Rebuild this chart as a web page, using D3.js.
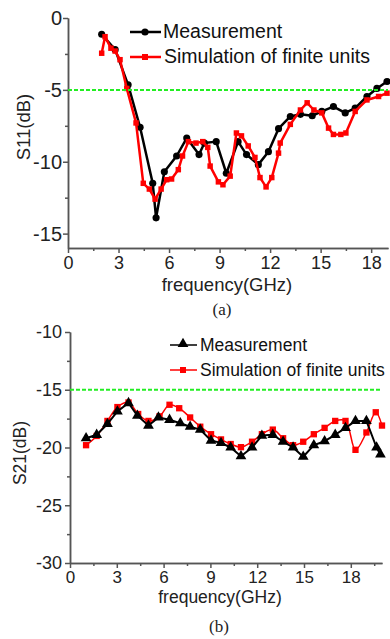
<!DOCTYPE html>
<html>
<head>
<meta charset="utf-8">
<script src="https://cdn.jsdelivr.net/npm/d3@7"></script>
<style>
  body { margin: 0; background: #fff; }
  svg { display: block; font-family: "Liberation Sans", Arial, sans-serif; }
  .axis path, .axis line { stroke: #555; stroke-width: 1.5; }
  .axis text { fill: #222; font-family: "Liberation Sans", Arial, sans-serif; }
</style>
</head>
<body>
<svg id="chart" width="390" height="639"></svg>
<script>
// ---- S11 (a) ----
var s11MeasFreq = [2.0, 2.8, 3.57, 4.28, 5.03, 5.23, 5.72, 6.45, 7.05, 7.78, 8.1, 8.8, 9.4, 10.1, 10.6, 11.3, 11.9, 12.5, 13.2, 13.8, 14.5, 15.07, 15.76, 16.46, 17.05, 17.75, 18.34, 18.94];
var s11MeasDb   = [-1.13, -2.2, -4.65, -7.6, -11.5, -13.9, -10.7, -9.6, -8.35, -9.5, -8.7, -8.6, -10.8, -8.6, -9.5, -10.2, -9.3, -7.7, -6.85, -6.7, -6.8, -6.5, -6.16, -6.6, -6.27, -5.46, -4.9, -4.42];
var s11SimFreq  = [2.0, 2.2, 2.55, 2.8, 3.09, 3.49, 4.04, 4.47, 4.83, 5.17, 5.53, 5.86, 6.15, 6.55, 6.8, 7.15, 7.6, 8.0, 8.3, 8.44, 8.93, 9.2, 9.63, 10.0, 10.3, 10.7, 11.1, 11.4, 11.76, 12.1, 12.5, 12.6, 13.2, 13.8, 14.2, 14.6, 15.07, 15.47, 15.76, 16.2, 16.5, 17.05, 17.75, 18.44, 18.94];
var s11SimDb    = [-2.45, -1.3, -2.1, -2.3, -2.9, -4.9, -7.3, -11.5, -11.9, -12.6, -11.9, -11.25, -11.2, -10.55, -9.6, -8.6, -8.7, -8.6, -9.0, -10.3, -11.4, -11.6, -11.0, -8.0, -8.2, -8.9, -9.7, -11.1, -11.75, -11.1, -9.4, -8.7, -7.4, -6.4, -5.9, -6.4, -6.6, -7.66, -8.1, -8.1, -8.0, -6.5, -5.7, -5.46, -5.23];
var s11XTicks = [0, 3, 6, 9, 12, 15, 18];
var s11YTicks = [0, -5, -10, -15];
var s11Limit = -5;

// ---- S21 (b) ----
var s21MeasFreq = [1.03, 1.71, 2.4, 3.04, 3.75, 4.32, 5.03, 5.67, 6.38, 7.07, 7.7, 8.35, 9.04, 9.68, 10.3, 10.96, 11.67, 12.3, 13.0, 13.66, 14.3, 14.95, 15.63, 16.32, 17.0, 17.66, 18.3, 19.0, 19.65, 19.9];
var s21MeasDb   = [-19.2, -18.9, -17.96, -16.87, -16.15, -17.24, -18.1, -17.4, -17.6, -17.9, -18.2, -18.45, -19.4, -19.6, -20.0, -20.75, -20.0, -18.97, -18.9, -19.5, -20.0, -20.8, -19.8, -19.45, -18.9, -18.3, -17.7, -17.7, -20.0, -20.6];
var s21SimFreq  = [1.03, 1.71, 2.4, 3.04, 3.75, 4.37, 5.03, 5.74, 6.38, 7.0, 7.7, 8.35, 9.04, 9.68, 10.3, 10.96, 11.67, 12.3, 13.0, 13.66, 14.3, 14.95, 15.63, 16.32, 17.0, 17.66, 18.3, 19.0, 19.6, 20.0];
var s21SimDb    = [-19.8, -19.0, -17.7, -16.5, -16.1, -17.1, -17.7, -17.3, -16.3, -16.6, -17.4, -18.2, -18.85, -19.3, -19.7, -19.97, -19.5, -18.85, -18.45, -19.2, -19.8, -19.5, -18.85, -18.3, -17.7, -17.7, -20.2, -18.7, -16.95, -18.1];
var s21XTicks = [0, 3, 6, 9, 12, 15, 18];
var s21YTicks = [-10, -15, -20, -25, -30];
var s21Limit = -15;

var svg = d3.select("#chart");

function zip(xs, ys) {
    return xs.map(function(x, i) { return {f: x, v: ys[i]}; });
}

// plain hyphen like the original, not the unicode minus
function plain(d) { return String(d); }

function drawAxes(g, x, y, xTicks, yTicks, opts) {
    var xMinor = [], yMinor = [];
    for (var i = 0; i < xTicks.length; i++) {
        var m = xTicks[i] + 1.5;
        if (m < x.domain()[1]) xMinor.push(m);
    }
    for (var j = 0; j < yTicks.length - 1; j++) {
        yMinor.push((yTicks[j] + yTicks[j + 1]) / 2);
    }

    g.append("g")
        .attr("class", "axis")
        .attr("transform", "translate(0," + y.range()[0] + ")")
        .call(d3.axisBottom(x).tickValues(xMinor).tickSize(3).tickSizeOuter(0).tickFormat(""));
    g.append("g")
        .attr("class", "axis")
        .attr("transform", "translate(" + x.range()[0] + ",0)")
        .call(d3.axisLeft(y).tickValues(yMinor).tickSize(3).tickSizeOuter(0).tickFormat(""));

    var xa = g.append("g")
        .attr("class", "axis")
        .attr("transform", "translate(0," + y.range()[0] + ")")
        .call(d3.axisBottom(x).tickValues(xTicks).tickSize(5).tickSizeOuter(0).tickPadding(3).tickFormat(plain));
    xa.selectAll("text").style("font-size", opts.xFont + "px");

    var ya = g.append("g")
        .attr("class", "axis")
        .attr("transform", "translate(" + x.range()[0] + ",0)")
        .call(d3.axisLeft(y).tickValues(yTicks).tickSize(5).tickSizeOuter(0).tickPadding(opts.yPad).tickFormat(plain));
    ya.selectAll("text").style("font-size", opts.yFont + "px");
}

function limitLine(g, x, y, v) {
    g.append("line")
        .attr("x1", x.range()[0]).attr("x2", x.range()[1])
        .attr("y1", y(v)).attr("y2", y(v))
        .attr("stroke", "#22ee22")
        .attr("stroke-width", 2)
        .attr("stroke-dasharray", "4,2");
}

function drawSeries(g, x, y, data, color, width, curve) {
    var line = d3.line()
        .x(function(d) { return x(d.f); })
        .y(function(d) { return y(d.v); })
        .curve(curve || d3.curveLinear);
    g.append("path")
        .datum(data)
        .attr("fill", "none")
        .attr("stroke", color)
        .attr("stroke-width", width)
        .attr("stroke-linejoin", "round")
        .attr("d", line);
}

function drawMarkers(g, x, y, data, type, color, size) {
    g.selectAll(null)
        .data(data)
        .enter()
        .append("path")
        .attr("transform", function(d) { return "translate(" + x(d.f) + "," + y(d.v) + ")"; })
        .attr("d", d3.symbol().type(type).size(size))
        .attr("fill", color);
}

// ================= chart (a) =================
var xA = d3.scaleLinear().domain([0, 19]).range([68, 388]);
var yA = d3.scaleLinear().domain([-16, 0]).range([248, 18]);
var gA = svg.append("g");

drawAxes(gA, xA, yA, s11XTicks, s11YTicks, {xFont: 18, yFont: 20, yPad: 1});

var measA = zip(s11MeasFreq, s11MeasDb);
var simA = zip(s11SimFreq, s11SimDb);
drawSeries(gA, xA, yA, measA, "#000", 2.5);
drawMarkers(gA, xA, yA, measA, d3.symbolCircle, "#000", 40);
drawSeries(gA, xA, yA, simA, "#f00", 2.5);
drawMarkers(gA, xA, yA, simA, d3.symbolSquare, "#f00", 30);
limitLine(gA, xA, yA, s11Limit);

// legend (a)
gA.append("line").attr("x1", 130).attr("x2", 161).attr("y1", 32).attr("y2", 32)
    .attr("stroke", "#000").attr("stroke-width", 2.5);
gA.append("circle").attr("cx", 145).attr("cy", 32).attr("r", 3.6).attr("fill", "#000");
gA.append("text").attr("x", 163).attr("y", 38).style("font-size", "19.5px").attr("fill", "#111")
    .text("Measurement");
gA.append("line").attr("x1", 130).attr("x2", 161).attr("y1", 57).attr("y2", 57)
    .attr("stroke", "#f00").attr("stroke-width", 2.5);
gA.append("rect").attr("x", 142).attr("y", 54).attr("width", 6).attr("height", 6).attr("fill", "#f00");
gA.append("text").attr("x", 164).attr("y", 63).style("font-size", "19.5px").attr("fill", "#111")
    .text("Simulation of finite units");

gA.append("text")
    .attr("transform", "translate(30,127) rotate(-90)")
    .attr("text-anchor", "middle")
    .style("font-size", "18.5px").attr("fill", "#222")
    .text("S11(dB)");
gA.append("text")
    .attr("x", 227).attr("y", 291)
    .attr("text-anchor", "middle")
    .style("font-size", "18.5px").attr("fill", "#222")
    .text("frequency(GHz)");
gA.append("text")
    .attr("x", 222).attr("y", 315)
    .attr("text-anchor", "middle")
    .style("font-family", "'Liberation Serif', 'Times New Roman', serif")
    .style("font-size", "17px").attr("fill", "#222")
    .text("(a)");

// ================= chart (b) =================
var xB = d3.scaleLinear().domain([0, 20]).range([70, 382]);
var yB = d3.scaleLinear().domain([-30, -10]).range([563, 332]);
var gB = svg.append("g");

drawAxes(gB, xB, yB, s21XTicks, s21YTicks, {xFont: 17, yFont: 18, yPad: 3});

var measB = zip(s21MeasFreq, s21MeasDb);
var simB = zip(s21SimFreq, s21SimDb);
limitLine(gB, xB, yB, s21Limit);
drawSeries(gB, xB, yB, simB, "#f00", 1.5, d3.curveCatmullRom);
drawMarkers(gB, xB, yB, simB, d3.symbolSquare, "#f00", 40);
drawSeries(gB, xB, yB, measB, "#000", 2);
drawMarkers(gB, xB, yB, measB, d3.symbolTriangle, "#000", 50);

// legend (b)
gB.append("line").attr("x1", 170).attr("x2", 197).attr("y1", 345).attr("y2", 345)
    .attr("stroke", "#000").attr("stroke-width", 1.5);
gB.append("path").attr("transform", "translate(183,344)")
    .attr("d", d3.symbol().type(d3.symbolTriangle).size(50)).attr("fill", "#000");
gB.append("text").attr("x", 200).attr("y", 351).style("font-size", "17.5px").attr("fill", "#111")
    .text("Measurement");
gB.append("line").attr("x1", 170).attr("x2", 197).attr("y1", 370).attr("y2", 370)
    .attr("stroke", "#f00").attr("stroke-width", 1.5);
gB.append("rect").attr("x", 180).attr("y", 367).attr("width", 6).attr("height", 6).attr("fill", "#f00");
gB.append("text").attr("x", 200).attr("y", 376).style("font-size", "17.5px").attr("fill", "#111")
    .text("Simulation of finite units");

gB.append("text")
    .attr("transform", "translate(26,453) rotate(-90)")
    .attr("text-anchor", "middle")
    .style("font-size", "17.5px").attr("fill", "#222")
    .text("S21(dB)");
gB.append("text")
    .attr("x", 220).attr("y", 603)
    .attr("text-anchor", "middle")
    .style("font-size", "17.5px").attr("fill", "#222")
    .text("frequency(GHz)");
gB.append("text")
    .attr("x", 219).attr("y", 632)
    .attr("text-anchor", "middle")
    .style("font-family", "'Liberation Serif', 'Times New Roman', serif")
    .style("font-size", "17px").attr("fill", "#222")
    .text("(b)");
</script>
</body>
</html>
